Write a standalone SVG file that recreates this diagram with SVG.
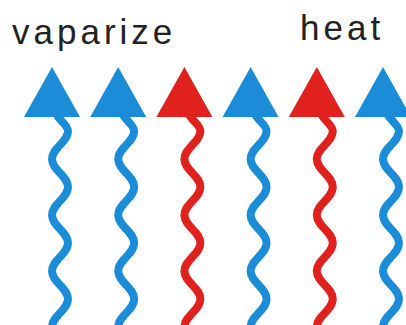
<svg xmlns="http://www.w3.org/2000/svg" width="406" height="325" viewBox="0 0 406 325">
<style>
.lbl{font-family:"Liberation Sans",Arial,sans-serif;font-size:35px;fill:#222;letter-spacing:4px}
.blue{color:#1a8cd8}
.red{color:#e0211d}
.wave{fill:none;stroke:currentColor;stroke-width:8;stroke-linecap:butt;stroke-linejoin:round}
.head{fill:currentColor}
</style>
<defs>
<g id="arrow">
<path class="wave" d="M3,110 C3,118 16,124 16,131 C16,142 0,148 0,159 C0,170 16,176 16,187 C16,198 0,204 0,215 C0,226 16,232 16,243 C16,254 0,260 0,271 C0,282 16,288 16,299 C16,310 0,316 0,327"/>
<polygon class="head" points="0,67 28,117 -28,117"/>
</g>
</defs>
<rect width="406" height="325" fill="#fff"/>
<text class="lbl" x="12" y="44">vaparize</text>
<text class="lbl" x="300" y="40">heat</text>
<g id="arrows">
<g id="a1" class="blue" transform="translate(52,0)"><use href="#arrow"/></g>
<g id="a2" class="blue" transform="translate(118.2,0)"><use href="#arrow"/></g>
<g id="a3" class="red" transform="translate(184.4,0)"><use href="#arrow"/></g>
<g id="a4" class="blue" transform="translate(250.6,0)"><use href="#arrow"/></g>
<g id="a5" class="red" transform="translate(316.8,0)"><use href="#arrow"/></g>
<g id="a6" class="blue" transform="translate(383,0)"><use href="#arrow"/></g>
</g>
</svg>
